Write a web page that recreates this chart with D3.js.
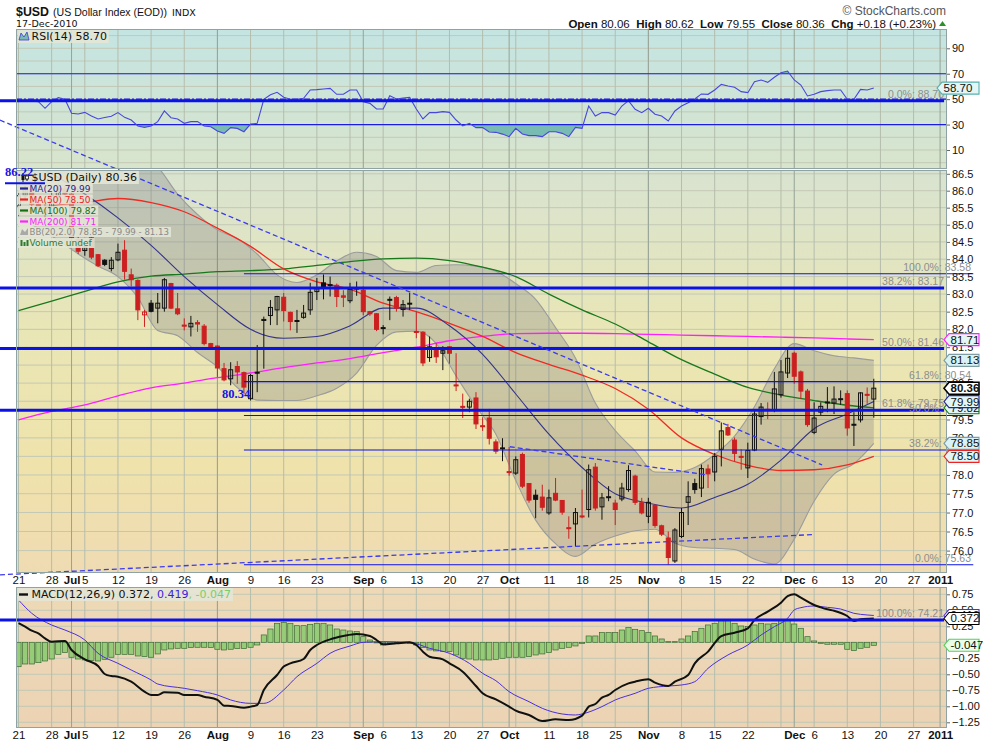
<!DOCTYPE html>
<html>
<head>
<meta charset="utf-8">
<title>$USD (US Dollar Index (EOD))</title>
<script src="https://cdn.jsdelivr.net/npm/d3@7"></script>
<style>
  body { margin: 0; background: #fff; }
  svg { display: block; }
  .leg { font-family: "DejaVu Sans", Verdana, sans-serif; }
</style>
</head>
<body>
<script>
// trading day index: 0 = Mon 21-Jun-2010 ... 129 = Fri 17-Dec-2010
const open = [
  85.55, 85.85, 86.05, 85.60, 85.45, 85.35, 85.85, 86.05, 85.90, 84.57,
  84.25, 84.62, 84.13, 83.97, 83.73, 83.98, 84.26, 83.55, 83.39, 82.41,
  82.74, 82.60, 82.60, 83.30, 82.58, 82.12, 82.07, 82.19, 82.09, 81.60,
  81.53, 80.90, 80.62, 80.96, 80.79, 80.07, 80.78, 82.25, 82.39, 82.55,
  82.91, 82.48, 82.23, 82.34, 82.55, 83.07, 83.32, 83.25, 83.25, 82.95,
  82.81, 83.15, 83.11, 82.50, 82.44, 82.03, 82.83, 82.90, 82.56, 82.72,
  81.94, 81.92, 81.21, 81.49, 81.33, 81.51, 80.45, 79.86, 79.84, 80.09,
  79.33, 79.54, 78.89, 78.72, 78.09, 78.05, 78.55, 77.77, 77.46, 77.41,
  76.99, 77.51, 77.32, 76.60, 76.70, 76.91, 77.08, 78.21, 77.15, 77.40,
  77.25, 77.36, 77.61, 77.97, 77.26, 76.90, 77.19, 76.65, 76.33, 75.73,
  76.37, 77.27, 77.77, 77.65, 78.16, 78.08, 78.69, 79.28, 78.94, 78.50,
  78.19, 78.67, 79.58, 79.78, 79.77, 80.18, 80.78, 81.33, 80.81, 80.28,
  79.15, 79.70, 79.96, 79.95, 80.06, 80.21, 79.35, 79.49, 80.19, 80.06
]
const high = [
  85.98, 86.15, 86.10, 85.80, 85.70, 85.95, 86.22, 86.15, 85.95, 84.65,
  84.50, 84.67, 84.15, 84.00, 84.06, 84.45, 84.55, 83.73, 83.42, 82.55,
  82.83, 83.03, 83.46, 83.32, 83.03, 82.31, 82.38, 82.26, 82.15, 81.62,
  81.55, 81.06, 81.08, 81.11, 80.82, 80.75, 81.56, 82.36, 82.83, 82.95,
  83.03, 82.50, 82.55, 82.69, 83.32, 83.46, 83.56, 83.50, 83.30, 83.11,
  83.32, 83.36, 83.22, 82.52, 82.46, 82.12, 82.93, 82.95, 82.83, 83.03,
  82.50, 81.95, 81.80, 81.61, 81.53, 81.53, 81.33, 80.21, 80.07, 80.25,
  79.56, 79.79, 78.96, 78.99, 78.75, 78.50, 78.60, 77.78, 77.61, 77.74,
  77.61, 77.92, 77.33, 76.90, 77.12, 77.61, 78.28, 78.32, 77.52, 77.70,
  77.34, 77.79, 78.26, 78.01, 77.39, 77.39, 77.22, 76.68, 76.50, 76.59,
  77.12, 77.83, 77.90, 78.28, 78.28, 78.59, 79.42, 79.38, 79.01, 78.69,
  78.87, 79.74, 79.95, 79.97, 80.81, 81.14, 81.44, 81.37, 80.85, 80.34,
  79.97, 79.97, 80.39, 80.41, 80.30, 80.30, 79.70, 80.25, 80.38, 80.62
]
const low = [
  85.25, 85.70, 85.50, 85.30, 85.20, 85.25, 85.70, 85.70, 84.50, 84.15,
  84.10, 84.00, 83.77, 83.80, 83.65, 83.94, 83.41, 83.22, 82.26, 82.07,
  82.48, 82.17, 82.50, 82.57, 82.40, 81.97, 81.80, 81.93, 81.55, 81.45,
  80.67, 80.55, 80.44, 80.48, 80.21, 80.02, 80.25, 80.90, 82.12, 82.12,
  82.22, 81.97, 81.90, 82.30, 82.41, 82.83, 82.85, 82.93, 82.63, 82.63,
  82.74, 82.95, 82.40, 82.38, 81.95, 81.86, 82.26, 82.50, 82.36, 82.55,
  81.75, 80.97, 81.09, 81.06, 80.86, 81.04, 80.28, 79.54, 79.70, 79.24,
  79.19, 78.82, 78.57, 78.37, 77.98, 78.00, 77.65, 77.26, 76.85, 77.05,
  76.94, 77.30, 76.94, 76.31, 76.11, 76.85, 76.87, 77.05, 76.81, 77.30,
  76.67, 77.30, 77.55, 77.20, 76.95, 76.72, 76.60, 76.38, 75.63, 75.68,
  76.33, 76.67, 77.50, 77.41, 77.65, 77.83, 78.23, 79.05, 78.37, 78.14,
  77.92, 78.64, 79.36, 79.51, 79.70, 80.10, 80.64, 80.48, 80.06, 79.30,
  79.10, 79.60, 79.70, 79.65, 79.90, 79.06, 78.78, 79.42, 79.93, 79.55
]
const close = [
  85.85, 86.05, 85.60, 85.45, 85.35, 85.85, 86.05, 85.90, 84.62, 84.23,
  84.35, 84.06, 83.81, 83.85, 83.97, 84.20, 83.65, 83.41, 82.55, 82.49,
  82.51, 82.74, 83.41, 82.60, 82.44, 82.09, 82.17, 82.15, 81.60, 81.48,
  80.92, 80.59, 80.87, 80.81, 80.39, 80.71, 80.80, 82.28, 82.62, 82.93,
  82.53, 82.22, 82.25, 82.46, 83.05, 83.15, 83.17, 83.27, 82.93, 82.91,
  83.13, 83.17, 82.50, 82.44, 82.00, 82.05, 82.85, 82.60, 82.70, 82.74,
  81.92, 81.06, 81.51, 81.23, 81.40, 81.33, 80.43, 79.84, 80.00, 79.38,
  79.31, 78.99, 78.64, 78.73, 78.07, 78.41, 77.70, 77.33, 77.35, 77.14,
  77.39, 77.33, 77.01, 76.59, 77.00, 76.89, 78.14, 77.12, 77.39, 77.42,
  77.08, 77.65, 78.12, 77.27, 76.99, 77.27, 76.66, 76.43, 75.82, 76.54,
  77.00, 77.42, 77.61, 78.17, 78.03, 78.50, 79.19, 79.08, 78.58, 78.48,
  78.66, 79.65, 79.84, 79.77, 80.34, 80.81, 81.19, 80.69, 80.28, 79.36,
  79.54, 79.86, 79.98, 80.06, 80.07, 79.27, 79.37, 80.23, 80.18, 80.36
]

// moving averages, read once a week
const maDays = [0, 5, 10, 15, 20, 25, 30, 35, 40, 45, 50, 55, 60, 65, 70, 75, 80, 85, 90, 95, 100, 105, 110, 115, 120, 125, 129]
const ma20 = [87.0, 86.5, 85.9, 85.2, 84.4, 83.5, 82.7, 82.0, 81.75, 81.8, 82.1, 82.6, 82.6, 82.1, 81.3, 80.2, 79.1, 78.2, 77.5, 77.25, 77.12, 77.4, 77.75, 78.4, 79.25, 79.65, 79.99]
const ma50 = [85.3, 85.55, 85.65, 85.77, 85.65, 85.38, 84.9, 84.37, 83.72, 83.35, 83.14, 82.74, 82.5, 82.17, 81.8, 81.35, 81.02, 80.72, 80.35, 79.78, 79.0, 78.55, 78.26, 78.12, 78.14, 78.27, 78.50]
const ma100 = [82.53, 82.8, 83.08, 83.35, 83.51, 83.57, 83.64, 83.67, 83.72, 83.82, 83.93, 84.01, 84.03, 83.96, 83.77, 83.5, 83.0, 82.55, 82.15, 81.65, 81.15, 80.75, 80.38, 80.17, 80.02, 79.89, 79.82]
const ma200 = [79.49, 79.72, 79.9, 80.15, 80.37, 80.5, 80.65, 80.78, 80.93, 81.06, 81.18, 81.35, 81.5, 81.68, 81.8, 81.88, 81.89, 81.89, 81.88, 81.86, 81.84, 81.82, 81.80, 81.78, 81.76, 81.73, 81.71]

// Bollinger bands, read every third day
const bbDays = [0, 3, 6, 9, 12, 15, 18, 21, 24, 27, 30, 33, 36, 39, 42, 45, 48, 51, 54, 57, 60, 63, 66, 69, 72, 75, 78, 81, 84, 87, 90, 93, 96, 99, 102, 105, 108, 111, 114, 117, 120, 123, 126, 129]
const bbUpper = [88.8, 88.5, 88.2, 87.9, 87.6, 87.4, 87.1, 86.7, 85.9, 85.3, 84.85, 84.6, 84.15, 83.55, 83.33, 83.55, 83.95, 84.2, 84.08, 83.67, 83.62, 83.82, 83.84, 83.8, 83.65, 83.3, 82.85, 82.05, 81.2, 79.95, 79.2, 78.65, 78.08, 78.07, 78.2, 78.55, 79.05, 79.85, 80.9, 81.6, 81.4, 81.26, 81.2, 81.13]
const bbLower = [85.2, 84.9, 84.55, 84.15, 83.8, 83.5, 82.9, 81.97, 81.82, 81.35, 80.95, 80.38, 80.03, 80.02, 80.02, 80.15, 80.36, 80.78, 81.55, 81.93, 81.95, 81.6, 80.7, 79.85, 79.1, 77.85, 76.8, 76.18, 75.85, 76.17, 76.38, 76.52, 76.56, 76.2, 76.08, 76.06, 76.03, 75.78, 75.65, 76.3, 77.3, 78.02, 78.3, 78.85]

const rsi = [
  48.0, 49.3, 48.5, 48.0, 42.8, 48.0, 51.2, 49.9, 38.9, 38.3,
  39.6, 36.7, 34.4, 35.5, 36.5, 39.4, 35.7, 33.6, 28.9, 27.8,
  28.9, 32.3, 40.7, 35.4, 34.4, 31.0, 32.3, 32.3, 28.9, 28.3,
  24.9, 23.1, 27.6, 27.0, 24.4, 30.4, 31.0, 49.9, 53.5, 55.4,
  51.5, 49.9, 49.9, 50.7, 57.2, 57.5, 58.0, 58.5, 53.8, 53.8,
  57.2, 57.2, 48.0, 46.7, 42.3, 42.3, 52.7, 50.1, 50.8, 51.4,
  42.3, 34.4, 39.4, 39.4, 40.2, 39.6, 33.6, 28.9, 31.0, 27.6,
  27.6, 24.2, 23.9, 22.5, 20.5, 27.0, 22.6, 21.3, 21.3, 20.5,
  24.4, 24.4, 23.1, 20.5, 27.8, 27.0, 44.6, 36.7, 39.4, 39.4,
  37.5, 44.6, 48.8, 42.0, 39.4, 42.8, 38.1, 36.7, 32.8, 40.7,
  44.6, 47.2, 50.1, 54.1, 53.8, 57.2, 61.6, 60.3, 59.3, 55.9,
  55.1, 63.7, 65.1, 63.2, 67.2, 70.8, 72.1, 65.1, 61.1, 52.5,
  53.8, 55.9, 56.7, 57.2, 57.2, 49.9, 49.9, 57.7, 57.2, 58.7
]

const macdDays = [0, 1, 2, 3, 4, 5, 7, 8, 10, 12, 13, 14, 15, 17, 19, 20, 21, 22, 24, 25, 27, 28, 30, 31, 32, 34, 35, 36, 37, 39, 40, 41, 43, 44, 45, 47, 49, 51, 53, 54, 55, 57, 59, 60, 61, 62, 64, 65, 67, 69, 70, 72, 74, 75, 77, 79, 81, 83, 85, 86, 87, 88, 89, 90, 92, 93, 95, 96, 98, 99, 101, 102, 104, 106, 108, 110, 111, 113, 115, 116, 117, 118, 120, 121, 122, 123, 125, 126, 127, 129]
const macdLine = [0.30, 0.244, 0.182, 0.14, 0.062, 0.01, 0.02, -0.12, -0.266, -0.37, -0.495, -0.527, -0.537, -0.615, -0.771, -0.823, -0.823, -0.781, -0.787, -0.823, -0.823, -0.85, -0.901, -0.99, -0.995, -1.021, -1.005, -0.98, -0.745, -0.511, -0.38, -0.329, -0.261, -0.12, -0.042, 0.046, 0.098, 0.13, 0.098, 0.036, -0.032, -0.016, 0.0, -0.042, -0.146, -0.225, -0.266, -0.329, -0.459, -0.683, -0.797, -0.891, -1.005, -1.068, -1.136, -1.23, -1.204, -1.214, -1.146, -1.005, -0.964, -0.865, -0.823, -0.745, -0.641, -0.615, -0.579, -0.631, -0.683, -0.615, -0.511, -0.329, -0.146, 0.098, 0.15, 0.218, 0.348, 0.479, 0.619, 0.723, 0.75, 0.697, 0.583, 0.546, 0.515, 0.494, 0.411, 0.333, 0.359, 0.372]
const signalDays = [0, 2, 5, 7, 10, 12, 15, 17, 20, 21, 25, 27, 30, 32, 35, 37, 40, 42, 45, 47, 50, 52, 55, 59, 62, 65, 68, 70, 72, 74, 77, 79, 82, 84, 85, 88, 90, 93, 95, 98, 100, 102, 104, 107, 110, 112, 114, 116, 117, 118, 120, 122, 124, 126, 128, 129]
const signalLine = [0.661, 0.453, 0.27, 0.192, 0.036, -0.172, -0.329, -0.433, -0.589, -0.652, -0.719, -0.756, -0.823, -0.901, -0.954, -0.954, -0.745, -0.537, -0.329, -0.172, -0.058, 0.0, 0.01, 0.0, -0.094, -0.172, -0.329, -0.485, -0.6, -0.771, -0.928, -1.032, -1.12, -1.136, -1.12, -1.005, -0.901, -0.797, -0.719, -0.683, -0.667, -0.615, -0.407, -0.198, -0.042, 0.114, 0.244, 0.375, 0.505, 0.541, 0.567, 0.546, 0.52, 0.453, 0.427, 0.419]
const hist = [
  -0.381, -0.339, -0.339, -0.318, -0.292, -0.261, -0.188, -0.161, -0.234, -0.261,
  -0.276, -0.286, -0.292, -0.266, -0.234, -0.188, -0.188, -0.188, -0.214, -0.224,
  -0.234, -0.182, -0.120, -0.104, -0.094, -0.094, -0.083, -0.078, -0.078, -0.083,
  -0.109, -0.120, -0.109, -0.099, -0.099, -0.078, -0.042, 0.115, 0.208, 0.297,
  0.312, 0.297, 0.260, 0.260, 0.281, 0.297, 0.297, 0.271, 0.208, 0.192,
  0.177, 0.167, 0.088, 0.036, -0.005, -0.042, -0.016, 0.000, -0.005, -0.016,
  -0.042, -0.083, -0.120, -0.135, -0.146, -0.146, -0.198, -0.250, -0.261, -0.276,
  -0.276, -0.276, -0.266, -0.250, -0.234, -0.234, -0.234, -0.224, -0.198, -0.182,
  -0.161, -0.120, -0.094, -0.078, -0.057, -0.016, 0.099, 0.099, 0.151, 0.151,
  0.151, 0.192, 0.229, 0.203, 0.182, 0.151, 0.099, 0.052, 0.010, 0.010,
  0.052, 0.099, 0.167, 0.219, 0.271, 0.297, 0.339, 0.339, 0.297, 0.255,
  0.245, 0.271, 0.297, 0.286, 0.297, 0.339, 0.349, 0.286, 0.219, 0.088,
  0.021, -0.016, -0.031, -0.031, -0.031, -0.109, -0.130, -0.094, -0.078, -0.047
]

// axis labels (day index of each label)
const axisDays = [0, 5, 8, 10, 15, 20, 25, 30, 35, 40, 45, 52, 55, 60, 65, 70, 74, 80, 85, 90, 95, 100, 105, 110, 117, 120, 125, 130, 135, 139]
const axisLabels = ['21', '28', 'Jul', '5', '12', '19', '26', 'Aug', '9', '16', '23', 'Sep', '6', '13', '20', '27', 'Oct', '11', '18', '25', 'Nov', '8', '15', '22', 'Dec', '6', '13', '20', '27', '2011']
const monthLabels = ['Jul', 'Aug', 'Sep', 'Oct', 'Nov', 'Dec', '2011']
const weekDays = d3.range(0, 141, 5)
const monthDays = [8, 30, 52, 74, 95, 117, 139]
const priceGrid = d3.range(76, 86.51, 0.5)
// labels hidden behind the value tags are left out
const priceTicks = [76, 76.5, 77, 77.5, 78, 79, 79.5, 80.5, 81.5, 82, 82.5, 83, 83.5, 84, 84.5, 85, 85.5, 86, 86.5]
const rsiTicks = [10, 30, 50, 70, 90]
const rsiGrid = d3.range(0, 101, 10)
const macdGrid = [-1.25, -1, -0.75, -0.5, -0.25, 0, 0.25, 0.5, 0.75]
const macdTicks = [-1.25, -1, -0.75, -0.5, -0.25, 0.25, 0.5, 0.75]

// drawn annotations: fibonacci levels and trendlines
const fibThick = [88.70, 83.17, 81.46, 79.75, 74.21]
const fibThickText = ['0.0%: 88.70', '38.2%: 83.17', '50.0%: 81.46', '61.8%: 79.75', '100.0%: 74.21']
const fibThin = [83.58, 80.54, 79.61, 78.67, 75.63]
const fibThinText = ['100.0%: 83.58', '61.8%: 80.54', '50.0%: 79.61', '38.2%: 78.67', '0.0%: 75.63']
const trendLines = [
  [[-2.8, 88.11], [121.2, 78.27]],
  [[74.1, 78.76], [103.9, 78.0]],
  [[-2.8, 75.37], [119.8, 76.42]]
]

/**
 * layout
 */
const X0 = 16, X1 = 947
const RSI = {top: 29, bot: 169}
const MAIN = {top: 170, bot: 573}
const MACD = {top: 587, bot: 728}

const x = d3.scaleLinear().domain([0, 129]).range([18.5, 873.8])
const yPrice = d3.scaleLog().domain([76, 86.5]).range([550.6, 173.8])
const yRsi = d3.scaleLinear().domain([10, 90]).range([150, 48.3])
const yMacd = d3.scaleLinear().domain([-1.25, 0.75]).range([722.3, 594.3])

const BLUE = '#0b12e8'
const svg = d3.select('body').append('svg')
  .attr('width', 990).attr('height', 744)
  .style('font-family', '"Liberation Sans", Arial, sans-serif')
const defs = svg.append('defs')

function grad(id, stops) {
  const g = defs.append('linearGradient').attr('id', id)
    .attr('x1', 0).attr('y1', 0).attr('x2', 0).attr('y2', 1)
  stops.forEach(([o, c]) => g.append('stop').attr('offset', o).attr('stop-color', c))
}
grad('gRsi', [[0, '#c4e4e3'], [1, '#d9e4cc']])
grad('gMain', [[0, '#d8e3d0'], [0.4, '#e9e6b6'], [0.72, '#efe3ab'], [1, '#efdbb3']])
grad('gMacd', [[0, '#eed9b7'], [1, '#ebd3b4']])

function clip(id, top, bot) {
  defs.append('clipPath').attr('id', id).append('rect')
    .attr('x', X0).attr('y', top).attr('width', X1 - X0).attr('height', bot - top)
}
clip('cRsi', RSI.top, RSI.bot)
clip('cMain', MAIN.top, MAIN.bot)
clip('cMacd', MACD.top, MACD.bot)
clip('cRsiLo', yRsi(30), RSI.bot)
clip('cRsiHi', RSI.top, yRsi(70))

// backgrounds + grid
const panels = [
  {p: RSI, fill: 'url(#gRsi)', clip: 'cRsi', h: rsiGrid.map(yRsi)},
  {p: MAIN, fill: 'url(#gMain)', clip: 'cMain', h: priceGrid.map(d => yPrice(d))},
  {p: MACD, fill: 'url(#gMacd)', clip: 'cMacd', h: macdGrid.map(yMacd)}
]
panels.forEach(({p, fill, clip, h}) => {
  svg.append('rect').attr('x', X0).attr('y', p.top)
    .attr('width', X1 - X0).attr('height', p.bot - p.top).attr('fill', fill)
  const g = svg.append('g').attr('clip-path', `url(#${clip})`)
  g.selectAll('line.h').data(h).join('line')
    .attr('x1', X0).attr('x2', X1).attr('y1', d => d).attr('y2', d => d)
    .attr('stroke', '#c3c9b6').attr('stroke-width', 1)
  g.selectAll('line.w').data(weekDays).join('line')
    .attr('x1', d => x(d)).attr('x2', d => x(d)).attr('y1', p.top).attr('y2', p.bot)
    .attr('stroke', '#b5bdac').attr('stroke-width', 1)
  g.selectAll('line.m').data(monthDays).join('line')
    .attr('x1', d => x(d)).attr('x2', d => x(d)).attr('y1', p.top).attr('y2', p.bot)
    .attr('stroke', '#96a396').attr('stroke-width', 1)
})

const lineOf = (days, vals, y) => d3.line()
  .x((d, k) => x(days[k])).y(d => y(d)).curve(d3.curveMonotoneX)(vals)

/**
 * RSI
 */
const gRsi = svg.append('g').attr('clip-path', 'url(#cRsi)')
const rsiArea = lvl => d3.area().x((d, i) => x(i)).y0(yRsi(lvl)).y1(d => yRsi(d))
gRsi.append('path').attr('d', rsiArea(30)(rsi)).attr('fill', '#78bbb3').attr('clip-path', 'url(#cRsiLo)')
gRsi.append('path').attr('d', rsiArea(70)(rsi)).attr('fill', '#78bbb3').attr('clip-path', 'url(#cRsiHi)')
;[70, 30].forEach(v => gRsi.append('line').attr('x1', X0).attr('x2', X1)
  .attr('y1', yRsi(v)).attr('y2', yRsi(v)).attr('stroke', '#1d1de0').attr('stroke-width', 1.2))
gRsi.append('line').attr('x1', X0).attr('x2', X1).attr('y1', yRsi(50)).attr('y2', yRsi(50))
  .attr('stroke', '#1d1de0').attr('stroke-width', 1.2).attr('stroke-dasharray', '6,2,2,2')
gRsi.append('path').attr('d', d3.line().x((d, i) => x(i)).y(d => yRsi(d))(rsi))
  .attr('fill', 'none').attr('stroke', '#4747dc').attr('stroke-width', 1.1)

/**
 * price panel
 */
const gMain = svg.append('g').attr('clip-path', 'url(#cMain)')
const band = d3.area().x((d, k) => x(bbDays[k]))
  .y0((d, k) => yPrice(bbLower[k])).y1(d => yPrice(d)).curve(d3.curveMonotoneX)
gMain.append('path').attr('d', band(bbUpper)).attr('fill', 'rgba(112,110,122,0.27)')
gMain.append('path').attr('d', lineOf(bbDays, bbUpper, yPrice)).attr('fill', 'none').attr('stroke', '#9b9c9c').attr('stroke-width', 1.1)
gMain.append('path').attr('d', lineOf(bbDays, bbLower, yPrice)).attr('fill', 'none').attr('stroke', '#9b9c9c').attr('stroke-width', 1.1)

const maSeries = [
  {vals: ma200, color: '#ff1eff', w: 1.3},
  {vals: ma100, color: '#18781c', w: 1.3},
  {vals: ma50, color: '#f02a22', w: 1.3},
  {vals: ma20, color: '#33338c', w: 1.1}
]
maSeries.forEach(s => gMain.append('path').attr('d', lineOf(maDays, s.vals, yPrice))
  .attr('fill', 'none').attr('stroke', s.color).attr('stroke-width', s.w))

// candles: black/red = up/down against the previous close, hollow = close above open
const candles = close.map((c, i) => ({
  i, o: open[i], h: high[i], l: low[i], c,
  color: i === 0 || c >= close[i - 1] ? '#111' : '#cc2020',
  hollow: c > open[i]
}))
const cg = gMain.selectAll('g.candle').data(candles).join('g')
cg.append('line')
  .attr('x1', d => x(d.i)).attr('x2', d => x(d.i))
  .attr('y1', d => yPrice(d.h)).attr('y2', d => yPrice(d.l))
  .attr('stroke', d => d.color).attr('stroke-width', 1)
cg.append('rect')
  .attr('x', d => x(d.i) - 2)
  .attr('y', d => yPrice(Math.max(d.o, d.c)))
  .attr('width', 4)
  .attr('height', d => Math.max(1, yPrice(Math.min(d.o, d.c)) - yPrice(Math.max(d.o, d.c))))
  .attr('fill', d => d.hollow ? 'none' : d.color)
  .attr('stroke', d => d.color).attr('stroke-width', 1)

/**
 * MACD
 */
const gMacd = svg.append('g').attr('clip-path', 'url(#cMacd)')
gMacd.selectAll('rect').data(hist).join('rect')
  .attr('x', (d, i) => x(i) - 2.6).attr('width', 5.2)
  .attr('y', d => Math.min(yMacd(d), yMacd(0)))
  .attr('height', d => Math.max(0.6, Math.abs(yMacd(d) - yMacd(0))))
  .attr('fill', '#96cb78').attr('stroke', '#3b6a34').attr('stroke-width', 0.7)
gMacd.append('path').attr('d', lineOf(signalDays, signalLine, yMacd))
  .attr('fill', 'none').attr('stroke', '#4a2fdc').attr('stroke-width', 1)
gMacd.append('path').attr('d', lineOf(macdDays, macdLine, yMacd))
  .attr('fill', 'none').attr('stroke', '#111').attr('stroke-width', 2)

/**
 * annotations (not clipped, like the originals)
 */
const ann = svg.append('g')
fibThin.forEach(v => ann.append('line')
  .attr('x1', x(34)).attr('x2', x(144)).attr('y1', yPrice(v)).attr('y2', yPrice(v))
  .attr('stroke', BLUE).attr('stroke-width', 1.1))
fibThick.forEach(v => ann.append('line')
  .attr('x1', x(-2.8)).attr('x2', x(139.6)).attr('y1', yPrice(v)).attr('y2', yPrice(v))
  .attr('stroke', BLUE).attr('stroke-width', 3))
trendLines.forEach(([a, b]) => ann.append('line')
  .attr('x1', x(a[0])).attr('y1', yPrice(a[1])).attr('x2', x(b[0])).attr('y2', yPrice(b[1]))
  .attr('stroke', '#3a3af0').attr('stroke-width', 1.3).attr('stroke-dasharray', '5,3'))
ann.append('text').attr('x', 222).attr('y', 398).text('80.34')
  .attr('font-family', '"Liberation Serif", serif').attr('font-weight', 'bold').attr('font-size', 12.5).attr('fill', '#1414e6')

fibThick.forEach((v, k) => ann.append('text').attr('x', 944).attr('y', yPrice(v) - 3)
  .attr('text-anchor', 'end').attr('font-size', 10.5).attr('fill', '#8e8e8e').text(fibThickText[k]))
fibThin.forEach((v, k) => ann.append('text').attr('x', 971).attr('y', yPrice(v) - 3)
  .attr('text-anchor', 'end').attr('font-size', 10.5).attr('fill', '#8e8e8e').text(fibThinText[k]))

// panel borders
;[RSI, MAIN, MACD].forEach(p => svg.append('rect').attr('x', X0 + 0.5).attr('y', p.top + 0.5)
  .attr('width', X1 - X0 - 1).attr('height', p.bot - p.top - 1)
  .attr('fill', 'none').attr('stroke', '#8fa2a4').attr('stroke-width', 1))

/**
 * axes
 */
function styleAxis(g, size) {
  g.attr('font-family', '"Liberation Sans", Arial, sans-serif').attr('font-size', size)
  g.select('.domain').remove()
  g.selectAll('text').attr('fill', '#111')
}
;[MAIN.bot, MACD.bot].forEach(yy => {
  const g = svg.append('g').attr('transform', `translate(0,${yy})`)
    .call(d3.axisBottom(x).tickValues(axisDays).tickFormat((d, k) => axisLabels[k]).tickSize(0).tickPadding(3))
  styleAxis(g, 11.5)
  g.selectAll('text').attr('font-weight', (d, k) => monthLabels.includes(axisLabels[k]) ? 'bold' : 'normal')
})
const rightAxes = [
  d3.axisRight(yRsi).tickValues(rsiTicks).tickFormat(d3.format('d')),
  d3.axisRight(yPrice).tickValues(priceTicks).tickFormat(d3.format('.1f')),
  d3.axisRight(yMacd).tickValues(macdTicks).tickFormat(d3.format('.2f'))
]
rightAxes.forEach(a => {
  const g = svg.append('g').attr('transform', `translate(${X1},0)`).call(a.tickSize(3).tickPadding(2))
  styleAxis(g, 11)
  g.selectAll('line').attr('stroke', '#666')
})

/**
 * value tags on the right
 */
function tag(y, label, stroke, fill, tip = 944, bold = false) {
  const L = tip + 5, R = 979, h = 6
  svg.append('path')
    .attr('d', `M${tip},${y} L${L},${y - h} L${R},${y - h} L${R},${y + h} L${L},${y + h} Z`)
    .attr('fill', fill).attr('stroke', stroke).attr('stroke-width', bold ? 1.6 : 1.1)
  svg.append('text').attr('x', L + 1.5).attr('y', y + 4).text(label)
    .attr('font-size', 11.5).attr('font-weight', bold ? 'bold' : 'normal').attr('fill', '#111')
}
tag(yRsi(58.70), '58.70', '#58aeb0', '#e3f6f5', 937)
tag(yPrice(81.71), '81.71', '#ff22ff', '#e2f6f6')
tag(yPrice(81.13), '81.13', '#7d9ea4', '#d8f2f5')
tag(yPrice(80.36), '80.36', '#000', '#fff', 944, true)
tag(yPrice(79.82), '79.82', '#1a7a1a', '#e2f6f6')
tag(yPrice(79.99), '79.99', '#26268e', '#e2f6f6')
tag(yPrice(78.85), '78.85', '#7d9ea4', '#d8f2f5')
tag(yPrice(78.50), '78.50', '#ee2222', '#e2f6f6')
tag(yMacd(0.419), '0.419', '#4a2fdc', '#fff')
tag(yMacd(0.372), '0.372', '#000', '#fff')
tag(yMacd(-0.047), '-0.047', '#5ccc5c', '#eaffea')

/**
 * legends
 */
function legendRow(xx, y, parts, size) {
  const g = svg.append('g')
  const bg = g.append('rect')
  const t = g.append('text').attr('class', 'leg').attr('x', xx).attr('y', y).attr('font-size', size)
  parts.forEach(([s, c]) => t.append('tspan').text(s).attr('fill', c))
  const b = t.node().getBBox()
  bg.attr('x', 18).attr('y', b.y).attr('width', b.x + b.width - 16).attr('height', b.height)
    .attr('fill', 'rgba(227,230,213,0.9)')
  return g
}
legendRow(31.5, 40, [['RSI(14) 58.70', '#111']], 11)
svg.append('path').attr('d', 'M19,40 L21,33 L24,37 L27,32 L29,40 Z').attr('fill', '#78bbb3').attr('stroke', '#3b3bd0').attr('stroke-width', 0.8)

legendRow(31.5, 181, [['$USD (Daily) 80.36', '#111']], 11)
svg.append('line').attr('x1', 23).attr('x2', 23).attr('y1', 173).attr('y2', 182).attr('stroke', '#111')
svg.append('rect').attr('x', 21.5).attr('y', 175).attr('width', 3).attr('height', 5).attr('fill', '#111')
svg.append('line').attr('x1', 27).attr('x2', 27).attr('y1', 174).attr('y2', 181).attr('stroke', '#111')
svg.append('rect').attr('x', 25.5).attr('y', 176).attr('width', 3).attr('height', 3).attr('fill', '#fff').attr('stroke', '#111').attr('stroke-width', 0.8)

const maLegend = [
  [191.5, 'MA(20) 79.99', '#26268e'],
  [202.5, 'MA(50) 78.50', '#ee2222'],
  [213.5, 'MA(100) 79.82', '#157015'],
  [224.5, 'MA(200) 81.71', '#ff22ff']
]
maLegend.forEach(([y, s, c]) => {
  legendRow(29.5, y, [[s, c]], 9)
  svg.append('line').attr('x1', 20).attr('x2', 28).attr('y1', y - 3).attr('y2', y - 3).attr('stroke', c).attr('stroke-width', 2.2)
})
legendRow(29.5, 235, [['BB(20,2.0) 78.85 - 79.99 - 81.13', '#8a8a8a']], 8.6)
svg.append('path').attr('d', 'M20,235 L22,229 L25,232 L28,228 L28,235 Z').attr('fill', '#a9a9a9')
legendRow(29.5, 246, [['Volume undef', '#2c7a2c']], 9)
;[20.5, 23.5, 26.5].forEach((xx, k) => svg.append('rect').attr('x', xx).attr('y', 240 + (k % 2) * 2)
  .attr('width', 2).attr('height', 6 - (k % 2) * 2).attr('fill', '#2c7a2c'))

legendRow(31.5, 598, [['MACD(12,26,9) 0.372', '#111'], [', 0.419', '#3b22dc'], [', -0.047', '#7dcc6a']], 11)
svg.append('line').attr('x1', 19).attr('x2', 28).attr('y1', 594.5).attr('y2', 594.5).attr('stroke', '#111').attr('stroke-width', 2.4)

// the 86.22 marker sits on top of the price legend
svg.append('line').attr('x1', 5).attr('x2', 45).attr('y1', yPrice(86.22)).attr('y2', yPrice(86.22))
  .attr('stroke', BLUE).attr('stroke-width', 2.2)
svg.append('text').attr('x', 5).attr('y', 175.5).text('86.22')
  .attr('font-family', '"Liberation Serif", serif').attr('font-weight', 'bold').attr('font-size', 12.5).attr('fill', '#1414e6')

/**
 * header
 */
svg.append('text').attr('x', 16).attr('y', 15.5).text('$USD')
  .attr('font-size', 13.5).attr('font-weight', 'bold').attr('fill', '#111')
  .attr('textLength', 33).attr('lengthAdjust', 'spacingAndGlyphs')
svg.append('text').attr('x', 53).attr('y', 15.5).text('(US Dollar Index (EOD))')
  .attr('font-size', 11.5).attr('fill', '#111')
  .attr('textLength', 114).attr('lengthAdjust', 'spacingAndGlyphs')
svg.append('text').attr('x', 172).attr('y', 15.5).text('INDX')
  .attr('class', 'leg').attr('font-size', 9.5).attr('fill', '#111')
svg.append('text').attr('x', 16).attr('y', 27).text('17-Dec-2010')
  .attr('class', 'leg').attr('font-size', 9.5).attr('fill', '#111')
svg.append('text').attr('x', 946).attr('y', 15).attr('text-anchor', 'end')
  .text('© StockCharts.com').attr('font-size', 12).attr('fill', '#555')

const quote = [['Open', ' 80.06  '], ['High', ' 80.62  '], ['Low', ' 79.55  '], ['Close', ' 80.36  '], ['Chg', ' +0.18 (+0.23%)']]
const qt = svg.append('text').attr('x', 936).attr('y', 27.5).attr('text-anchor', 'end')
  .attr('font-size', 11.5).attr('fill', '#111').attr('xml:space', 'preserve').style('white-space', 'pre')
quote.forEach(([k, v]) => {
  qt.append('tspan').text(k).attr('font-weight', 'bold')
  qt.append('tspan').text(v)
})
svg.append('path').attr('d', 'M939,26 L942.5,21 L946,26 Z').attr('fill', '#2f8f2f')
</script>
</body>
</html>
